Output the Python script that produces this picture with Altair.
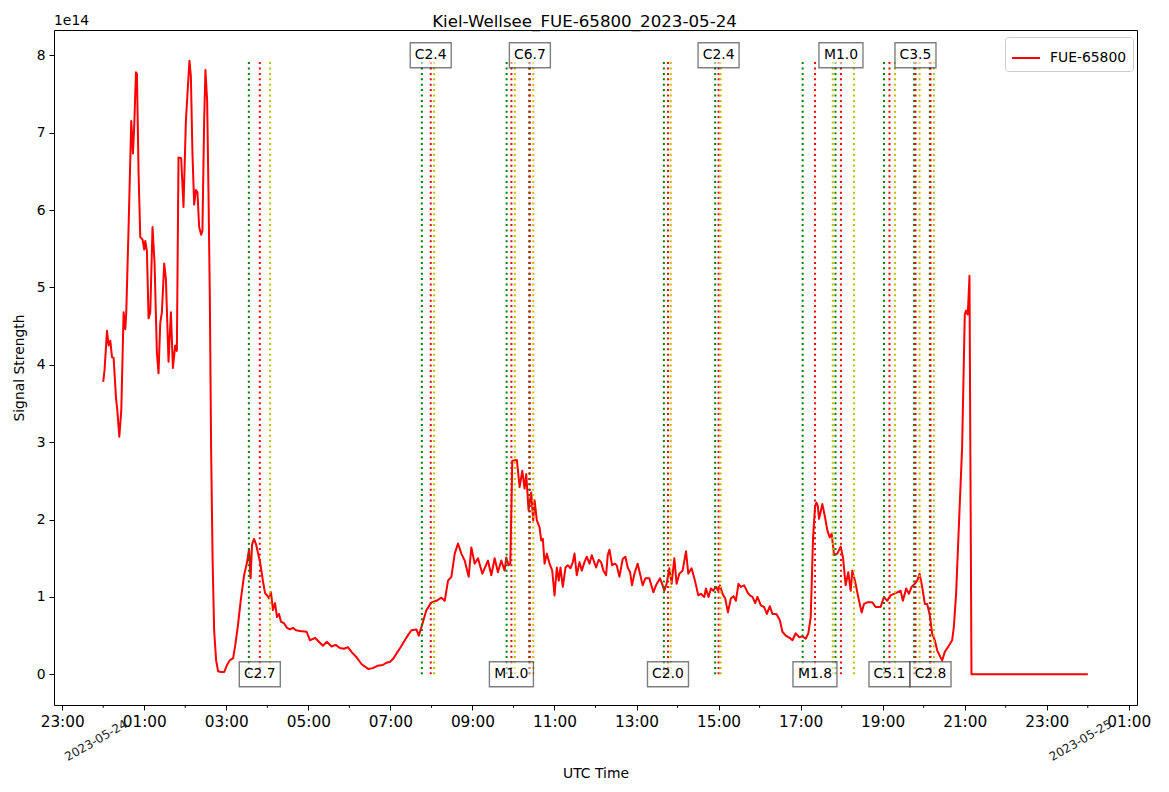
import altair as alt
import pandas as pd

DAY = "2023-05-24"
STATION = "FUE-65800"
TITLE = "Kiel-Wellsee_FUE-65800_2023-05-24"

# signal trace: minutes after 00:00 UTC and signal strength in units of 1e14
sig_minutes = [
    0, 2.0, 5.5, 7.9, 10.4, 12.8, 15.2, 18.7, 20.6, 23.5, 26.4, 29.8, 32.3, 33.7, 37.1, 41.0, 43.5,
    45.4, 47.9, 49.3, 51.7, 54.2, 57.5, 60.0, 61.5, 63.9, 66.3, 68.8, 72.1, 75.1, 78.5, 80.9, 83.4,
    85.8, 89.2, 91.7, 95.5, 99.0, 101.9, 105.3, 107.7, 110.1, 114.0, 117.4, 120.9, 126.1, 128.2,
    130.5, 133.0, 135.5, 137.8, 140.3, 143.2, 145.1, 147.6, 149.5, 152.0, 153.9, 155.9, 157.8,
    160.0, 162.2, 165.1, 168.0, 172, 177, 181, 185, 190, 193, 197, 201, 206,
    210.4, 213.3, 215.5, 217.7, 220.6, 223.5, 226.5, 229.4, 230.8, 233.7, 236.7, 239.6, 242.5,
    245.4, 248.3, 251.3, 254.2, 257.1, 260.0, 264.4, 268.8, 273.2, 277.5, 281.9, 287.8,
    297.5, 302.4, 310.0, 321.3, 327.0, 334.0, 340.0, 346.1, 352.0, 357.8, 364.0, 370.5, 378.0,
    387.5, 394.3, 401.0, 408.9, 414.0, 419.2, 424.0, 429.0, 435.0, 441.1, 446.0,
    450.8, 458.1, 461.5, 465.4, 472.7, 480.0, 487.3, 494.6, 499.5, 504.3, 509.2, 514.1, 518.9,
    523.8, 528.7, 534.5, 538.4, 543.3, 548.1, 554.5, 562.7, 567.6, 572.5, 577.3, 582.2, 587.1,
    589.5, 592.9, 595.4, 598.3, 605.0, 609.0, 612.9, 616.3, 618.7, 622.1, 626.0, 628.9, 630.9,
    634.2, 638.2, 640.6, 643.0, 645.5, 648.8, 652.8, 656.7, 660.1, 663.4, 666.3, 668.8, 672.2,
    676.1, 679.5, 683.4, 686.8, 689.3, 692.6, 696.6, 699.9, 703.9, 707.2, 711.2, 714.5, 718.5,
    720.9, 724.7, 728.2, 731.6, 735.5, 737.9, 740.4, 744.3, 748.1, 751.0, 755.0, 759.8, 763.7,
    767.1, 770.6, 773.4, 776.9, 781.7, 785.6, 789.0, 792.9, 798.8, 804.6, 808.5, 814.4, 818.2,
    820.7, 824.0, 828.0, 831.3, 835.3, 838.6, 842.6, 847.4, 852.4, 855.7, 860.5, 865.5, 870.3,
    874.2, 879.1, 881.5, 885.3, 888.8, 892.2, 896.1, 899.5, 902.0, 905.8, 909.7, 913.7, 918.0,
    921.8, 925.3, 929.1, 932.6, 937.5, 942.3, 945.8, 949.6, 953.5, 956.9, 961.8, 966.7, 970.6,
    975.0, 978.8, 984.6, 989.6, 993.4, 998.3, 1005.6, 1008.0, 1012.9, 1017.8, 1022.6, 1027.5,
    1031.3, 1034.8, 1038.2, 1041.1, 1043.0, 1045.1, 1047.0, 1051.8, 1055.7, 1059.1, 1062.6,
    1065.5, 1068.9, 1073.7, 1078.6, 1082.0, 1085.9, 1089.7, 1093.2, 1095.6, 1099.5, 1104.3,
    1109.3, 1112.7, 1117.5, 1124.8, 1129.7, 1137.0, 1141.9, 1146.7, 1151.6, 1156.5, 1161.3,
    1166.3, 1169.6, 1174.4, 1178.4, 1182.3, 1187.1, 1190.5, 1194.0, 1197.8, 1201.7, 1205.1,
    1208.6, 1212.4, 1216.3, 1219.7, 1224.6, 1227.0, 1230.9, 1236.8, 1241.6, 1244.1, 1247.4,
    1251.4, 1256.2, 1260.1, 1262.0, 1264.5, 1267.0, 1269.9, 1440,
]
sig_values = [
    3.78, 3.94, 4.44, 4.25, 4.31, 4.10, 4.09, 3.57, 3.41, 3.07, 3.41, 4.68, 4.46, 4.68, 5.78, 7.15, 6.73,
    7.10, 7.78, 7.76, 6.47, 5.65, 5.62, 5.49, 5.60, 5.47, 4.60, 4.68, 5.78, 5.31, 4.15, 3.89, 4.54,
    4.68, 5.31, 5.10, 4.04, 4.68, 3.96, 4.25, 4.18, 6.68, 6.67, 6.04, 7.15, 7.93, 7.73,
    6.73, 6.07, 6.26, 6.23, 5.78, 5.68, 5.73, 7.15, 7.81, 7.41, 6.26, 4.89, 2.90,
    1.47, 0.57, 0.18, 0.04, 0.03, 0.03, 0.12, 0.18, 0.21, 0.37, 0.63, 0.95, 1.28,
    1.45, 1.62, 1.24, 1.68, 1.75, 1.68, 1.56, 1.45, 1.37, 1.20, 1.05, 1.02, 0.98,
    1.06, 0.83, 0.92, 0.74, 0.78, 0.68, 0.66, 0.60, 0.58, 0.60, 0.57, 0.56,
    0.55, 0.44, 0.47, 0.37, 0.42, 0.36, 0.38, 0.34, 0.33, 0.35, 0.28, 0.22, 0.13,
    0.07, 0.08, 0.11, 0.12, 0.15, 0.16, 0.20, 0.27, 0.35, 0.44, 0.51,
    0.57, 0.58, 0.50, 0.61, 0.83, 0.93, 0.95, 0.99, 0.95, 1.21, 1.26, 1.56, 1.69,
    1.56, 1.47, 1.26, 1.64, 1.43, 1.50, 1.30, 1.47, 1.28, 1.50, 1.32, 1.47, 1.34,
    1.51, 1.41, 1.43, 2.76, 2.77, 2.42, 2.63, 2.40, 2.59, 2.12, 2.35, 1.99, 2.25,
    1.99, 1.90, 1.73, 1.75, 1.43, 1.56, 1.43, 1.34, 1.02, 1.38, 1.21, 1.38, 1.13,
    1.38, 1.41, 1.37, 1.45, 1.56, 1.28, 1.45, 1.34, 1.45, 1.52, 1.43, 1.54, 1.44,
    1.38, 1.48, 1.45, 1.34, 1.28, 1.54, 1.61, 1.41, 1.43, 1.41, 1.26, 1.49, 1.52,
    1.38, 1.32, 1.15, 1.30, 1.43, 1.28, 1.15, 1.24, 1.24, 1.06, 1.15, 1.24, 1.15,
    1.08, 1.17, 1.37, 1.17, 1.50, 1.17, 1.30, 1.34, 1.59, 1.30, 1.37, 1.21, 1.02,
    1.04, 1.00, 1.11, 1.00, 1.11, 1.08, 1.13, 1.08, 1.15, 1.04, 0.98, 0.80, 0.98,
    1.01, 0.95, 1.17, 1.13, 1.15, 1.06, 1.02, 1.00, 0.92, 1.00, 0.89, 0.87, 0.78,
    0.88, 0.78, 0.78, 0.70, 0.55, 0.50, 0.46, 0.44, 0.53, 0.48, 0.49, 0.46,
    0.53, 0.74, 1.77, 2.16, 2.22, 2.18, 2.01, 2.20, 2.03, 1.86, 1.77,
    1.82, 1.54, 1.56, 1.65, 1.51, 1.15, 1.32, 1.08, 1.34, 1.21, 1.00,
    0.80, 0.91, 0.93, 0.93, 0.87, 0.87, 1.00, 0.95, 1.02, 1.04, 1.06,
    1.08, 0.95, 1.11, 1.04, 1.13, 1.17, 1.21, 1.30, 1.13, 0.91, 0.91,
    0.78, 0.53, 0.44, 0.31, 0.22, 0.18, 0.29, 0.37, 0.44, 0.61, 1.04,
    1.90, 2.93, 4.65, 4.70, 4.65, 5.15, 0.00, 0.00,
]

# flare events (start / peak / end, UTC)
flare_class = ["C2.7", "C2.4", "M1.0", "C6.7", "C2.0", "C2.4", "M1.8", "M1.0", "C5.1", "C3.5", "C2.8"]
flare_start = ["03:33", "07:46", "09:50", "10:23", "13:40", "14:55", "17:03", "17:51", "19:02", "19:46", "20:09"]
flare_peak = ["03:49", "07:59", "09:57", "10:24", "13:46", "15:00", "17:21", "17:59", "19:10", "19:48", "20:10"]
flare_end = ["04:04", "08:04", "10:02", "10:29", "13:50", "15:03", "17:47", "18:18", "19:18", "19:54", "20:15"]

date_labels = ["2023-05-24", "2023-05-25"]
y_ticks = [0, 1, 2, 3, 4, 5, 6, 7, 8]

base = pd.Timestamp(DAY, tz="UTC")


def iso(ts):
    return ts.strftime("%Y-%m-%dT%H:%M:%SZ")


def from_min(m):
    return iso(base + pd.Timedelta(minutes=m))


def from_hhmm(s):
    h, m = s.split(":")
    return from_min(int(h) * 60 + int(m))


sig_df = pd.DataFrame({
    "time": [from_min(m) for m in sig_minutes],
    "signal": sig_values,
    "series": STATION,
})

vmax = max(sig_values)
y_lo = -0.05 * vmax
y_hi = vmax * 1.05

rule_rows = []
for s, p, e in zip(flare_start, flare_peak, flare_end):
    for kind, t in (("start", s), ("peak", p), ("end", e)):
        rule_rows.append({"time": from_hhmm(t), "kind": kind, "signal": 0.0, "signal2": vmax})
rule_df = pd.DataFrame(rule_rows)

lab_df = pd.DataFrame({
    "time": [from_hhmm(p) for p in flare_peak],
    "cls": flare_class,
    "letter": [c[0] for c in flare_class],
    "signal": [0.0 if i % 2 == 0 else 8.0 for i in range(len(flare_class))],
})

minor_df = pd.DataFrame({"time": [from_min(60 * h) for h in range(0, 25, 2)]})
date_df = pd.DataFrame({"time": [from_min(0), from_min(1440)], "label": date_labels})

to_ms = lambda ts: int(ts.value // 1_000_000)
x_lo = base - pd.Timedelta(minutes=72)
x_hi = base + pd.Timedelta(minutes=1440 + 72)
x_scale = alt.Scale(type="utc", domain=[to_ms(x_lo), to_ms(x_hi)])
y_scale = alt.Scale(domain=[y_lo, y_hi], nice=False, zero=False)

major_vals = [to_ms(base + pd.Timedelta(hours=h)) for h in range(-1, 26, 2)]

W, H = 1083, 675
FONT = "DejaVu Sans"

x_axis = alt.Axis(values=major_vals, format="%H:%M", labelFontSize=15.3, labelPadding=4,
                  tickSize=5, titleFontSize=13.9, titlePadding=37)
y_axis = alt.Axis(values=y_ticks, labelFontSize=13.9, labelPadding=4,
                  tickSize=5, titleFontSize=13.9, titlePadding=10)

X = alt.X("time:T", scale=x_scale, title="UTC Time", axis=x_axis)
Y = alt.Y("signal:Q", scale=y_scale, title="Signal Strength", axis=y_axis)

line = alt.Chart(sig_df).mark_line(strokeWidth=2, strokeJoin="round").encode(
    x=X,
    y=Y,
    color=alt.Color("series:N",
                    scale=alt.Scale(domain=[STATION], range=["red"]),
                    legend=alt.Legend(title=None, orient="none", legendX=951, legendY=7,
                                      symbolType="stroke", symbolStrokeWidth=2, symbolSize=784,
                                      labelFontSize=13.9, labelFont=FONT, labelOffset=9,
                                      fillColor="white", strokeColor="#cccccc",
                                      padding=6, cornerRadius=3)),
)

rules = alt.Chart(rule_df).mark_rule(strokeWidth=2, strokeDash=[2, 3.4]).encode(
    x=X,
    y=Y,
    y2="signal2:Q",
    stroke=alt.Stroke("kind:N",
                      scale=alt.Scale(domain=["start", "peak", "end"],
                                      range=["green", "red", "#bfbf00"]),
                      legend=None),
)

minor = alt.Chart(minor_df).mark_rule(color="black", strokeWidth=1).encode(
    x=X, y=alt.value(H), y2=alt.value(H + 2.8)
)

box_c = "M-1.64,-1L1.64,-1L1.64,1L-1.64,1Z"
box_m = "M-1.76,-1L1.76,-1L1.76,1L-1.76,1Z"
boxes = alt.Chart(lab_df).mark_point(
    filled=True, fill="white", fillOpacity=0.55, stroke="black", strokeOpacity=0.5,
    strokeWidth=1.4, size=625, opacity=1
).encode(
    x=X,
    y=Y,
    shape=alt.Shape("letter:N", scale=alt.Scale(domain=["C", "M"], range=[box_c, box_m]),
                    legend=None),
)

texts = alt.Chart(lab_df).mark_text(fontSize=13.9, font=FONT, color="black",
                                    align="center", baseline="middle").encode(
    x=X,
    y=Y,
    text="cls:N",
)

dates = alt.Chart(date_df).mark_text(fontSize=12, font=FONT, color="#222222", angle=330,
                                     align="right", baseline="middle", xOffset=23).encode(
    x=X, y=alt.value(H + 18), text="label:N"
)

offset_txt = alt.Chart(pd.DataFrame({"t": ["1e14"]})).mark_text(
    fontSize=13.9, font=FONT, color="black", align="left", baseline="alphabetic"
).encode(x=alt.value(0), y=alt.value(-5), text="t:N")

title_txt = alt.Chart(pd.DataFrame({"t": [TITLE]})).mark_text(
    fontSize=16.67, font=FONT, color="black", align="center", baseline="alphabetic"
).encode(x=alt.value(530.5), y=alt.value(-3), text="t:N")

chart = alt.layer(line, rules, minor, boxes, texts, dates, offset_txt, title_txt).properties(
    width=W, height=H,
    autosize=alt.AutoSizeParams(type="none"),
    padding={"left": 46, "top": 22, "right": 24, "bottom": 79},
).configure(
    font=FONT, background="white"
).configure_view(
    stroke="black", strokeWidth=1, fill="white"
).configure_axis(
    domain=False, grid=False, tickColor="black", labelColor="black", titleColor="black",
    titleFontWeight="normal", labelFont=FONT, titleFont=FONT
)

chart.save("out.html", embed_options={"renderer": "svg", "actions": False})
